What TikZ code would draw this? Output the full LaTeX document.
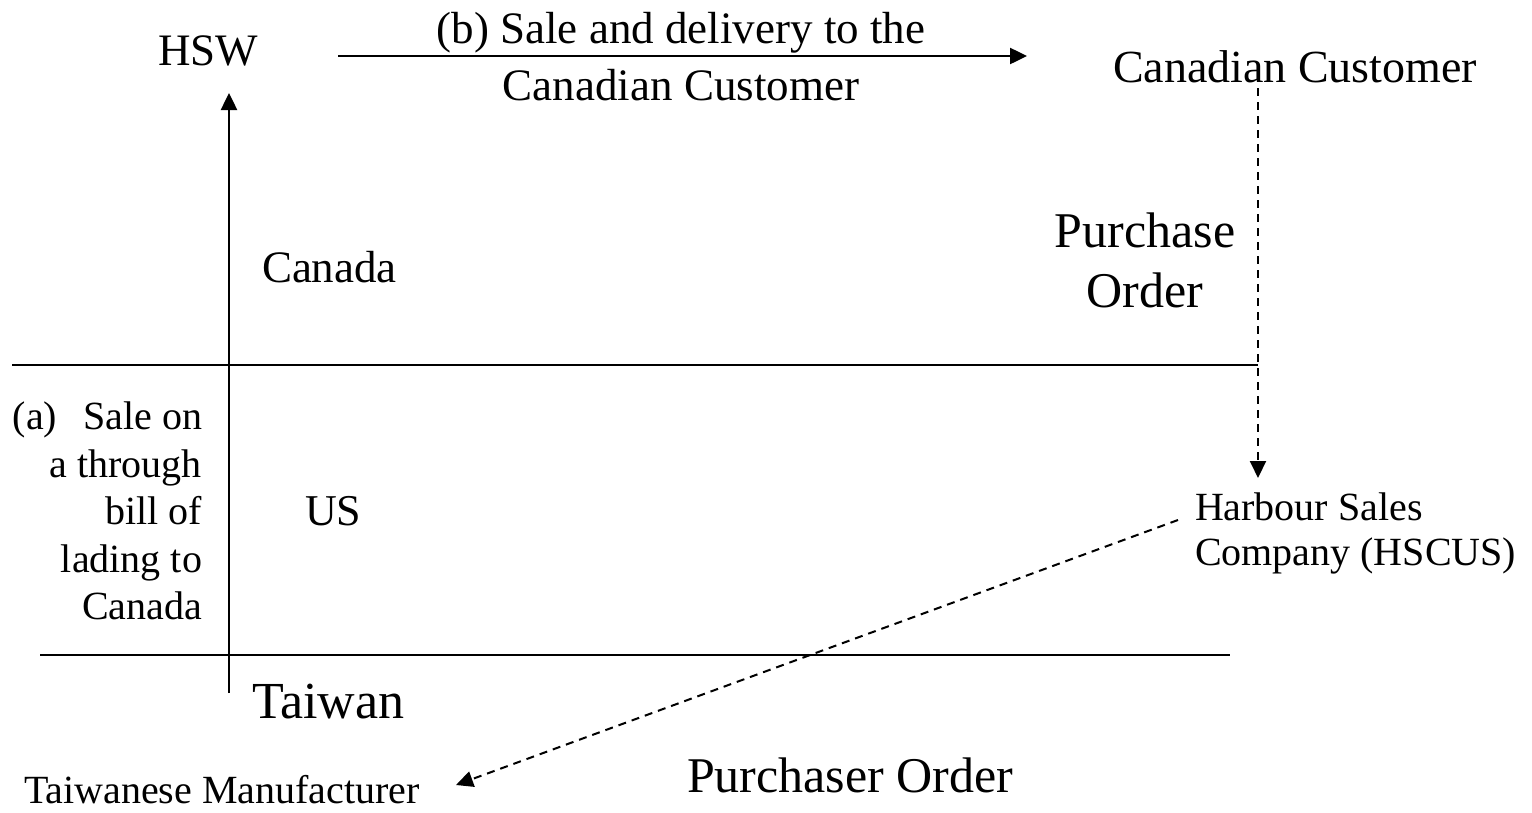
\documentclass[tikz,border=0pt]{standalone}
\usepackage{fontspec}
\setmainfont{Liberation Serif}
\usetikzlibrary{arrows.meta}
\begin{document}
\begin{tikzpicture}[x=1pt,y=-1pt,
  lbl/.style={inner sep=0pt, outer sep=0pt},
  border/.style={line width=2.5pt},
  solidarrow/.style={line width=2.5pt, -{Triangle[length=17pt,width=16pt]}},
  dasharrow/.style={line width=2pt, dash pattern=on 8pt off 6pt, -{Triangle[length=17pt,width=16pt]}},
]
\useasboundingbox (0,0) rectangle (1532,812);

% parties
\node[lbl, anchor=base west, font=\fontsize{45}{54}\selectfont] (hsw) at (158,65) {HSW};
\node[lbl, anchor=base west, font=\fontsize{46}{54}\selectfont] (cust) at (1113,82) {Canadian Customer};
\node[lbl, anchor=north west, align=left, font=\fontsize{40}{45}\selectfont] (hscus) at (1195,493) {Harbour Sales\\Company (HSCUS)};
\node[lbl, anchor=base west, font=\fontsize{40}{45}\selectfont] (mfr) at (24,803) {Taiwanese Manufacturer};

% countries
\node[lbl, anchor=base west, font=\fontsize{45}{54}\selectfont] (canada) at (262,282) {Canada};
\node[lbl, anchor=base west, font=\fontsize{44}{54}\selectfont] (us) at (305,525) {US};
\node[lbl, anchor=base west, font=\fontsize{52}{60}\selectfont] (taiwan) at (252,718) {Taiwan};

% transaction labels
\node[lbl, anchor=north, align=center, font=\fontsize{45}{57}\selectfont] (blabel) at (681,12) {(b) Sale and delivery to the\\Canadian Customer};
\node[lbl, anchor=north, align=center, font=\fontsize{50}{60}\selectfont] (po) at (1145,213) {Purchase\\Order};
\node[lbl, anchor=north east, align=right, font=\fontsize{40}{47.5}\selectfont] (alabel) at (202,402) {(a)\hspace{26pt}Sale on\\a through\\bill of\\lading to\\Canada};
\node[lbl, anchor=base west, font=\fontsize{50}{60}\selectfont] (pso) at (687,792) {Purchaser Order};

% border lines
\coordinate (cbL) at (12,365);
\coordinate (cbR) at (1258,365);
\coordinate (tbL) at (40,655);
\coordinate (tbR) at (1230,655);
\draw[border] (cbL) -- (cbR);
\draw[border] (tbL) -- (tbR);

% flows
\coordinate (aStart) at (229,693);
\coordinate (aEnd) at (229,93);
\draw[solidarrow] (aStart) -- (aEnd);

\coordinate (bStart) at (338,56);
\coordinate (bEnd) at (1027,56);
\draw[solidarrow] (bStart) -- (bEnd);

\coordinate (poStart) at (1258,88);
\coordinate (poEnd) at (1258,478);
\draw[dasharrow] (poStart) -- (poEnd);

\coordinate (psoStart) at (1178,520);
\coordinate (psoEnd) at (456,785);
\draw[dasharrow] (psoStart) -- (psoEnd);
\end{tikzpicture}
\end{document}
